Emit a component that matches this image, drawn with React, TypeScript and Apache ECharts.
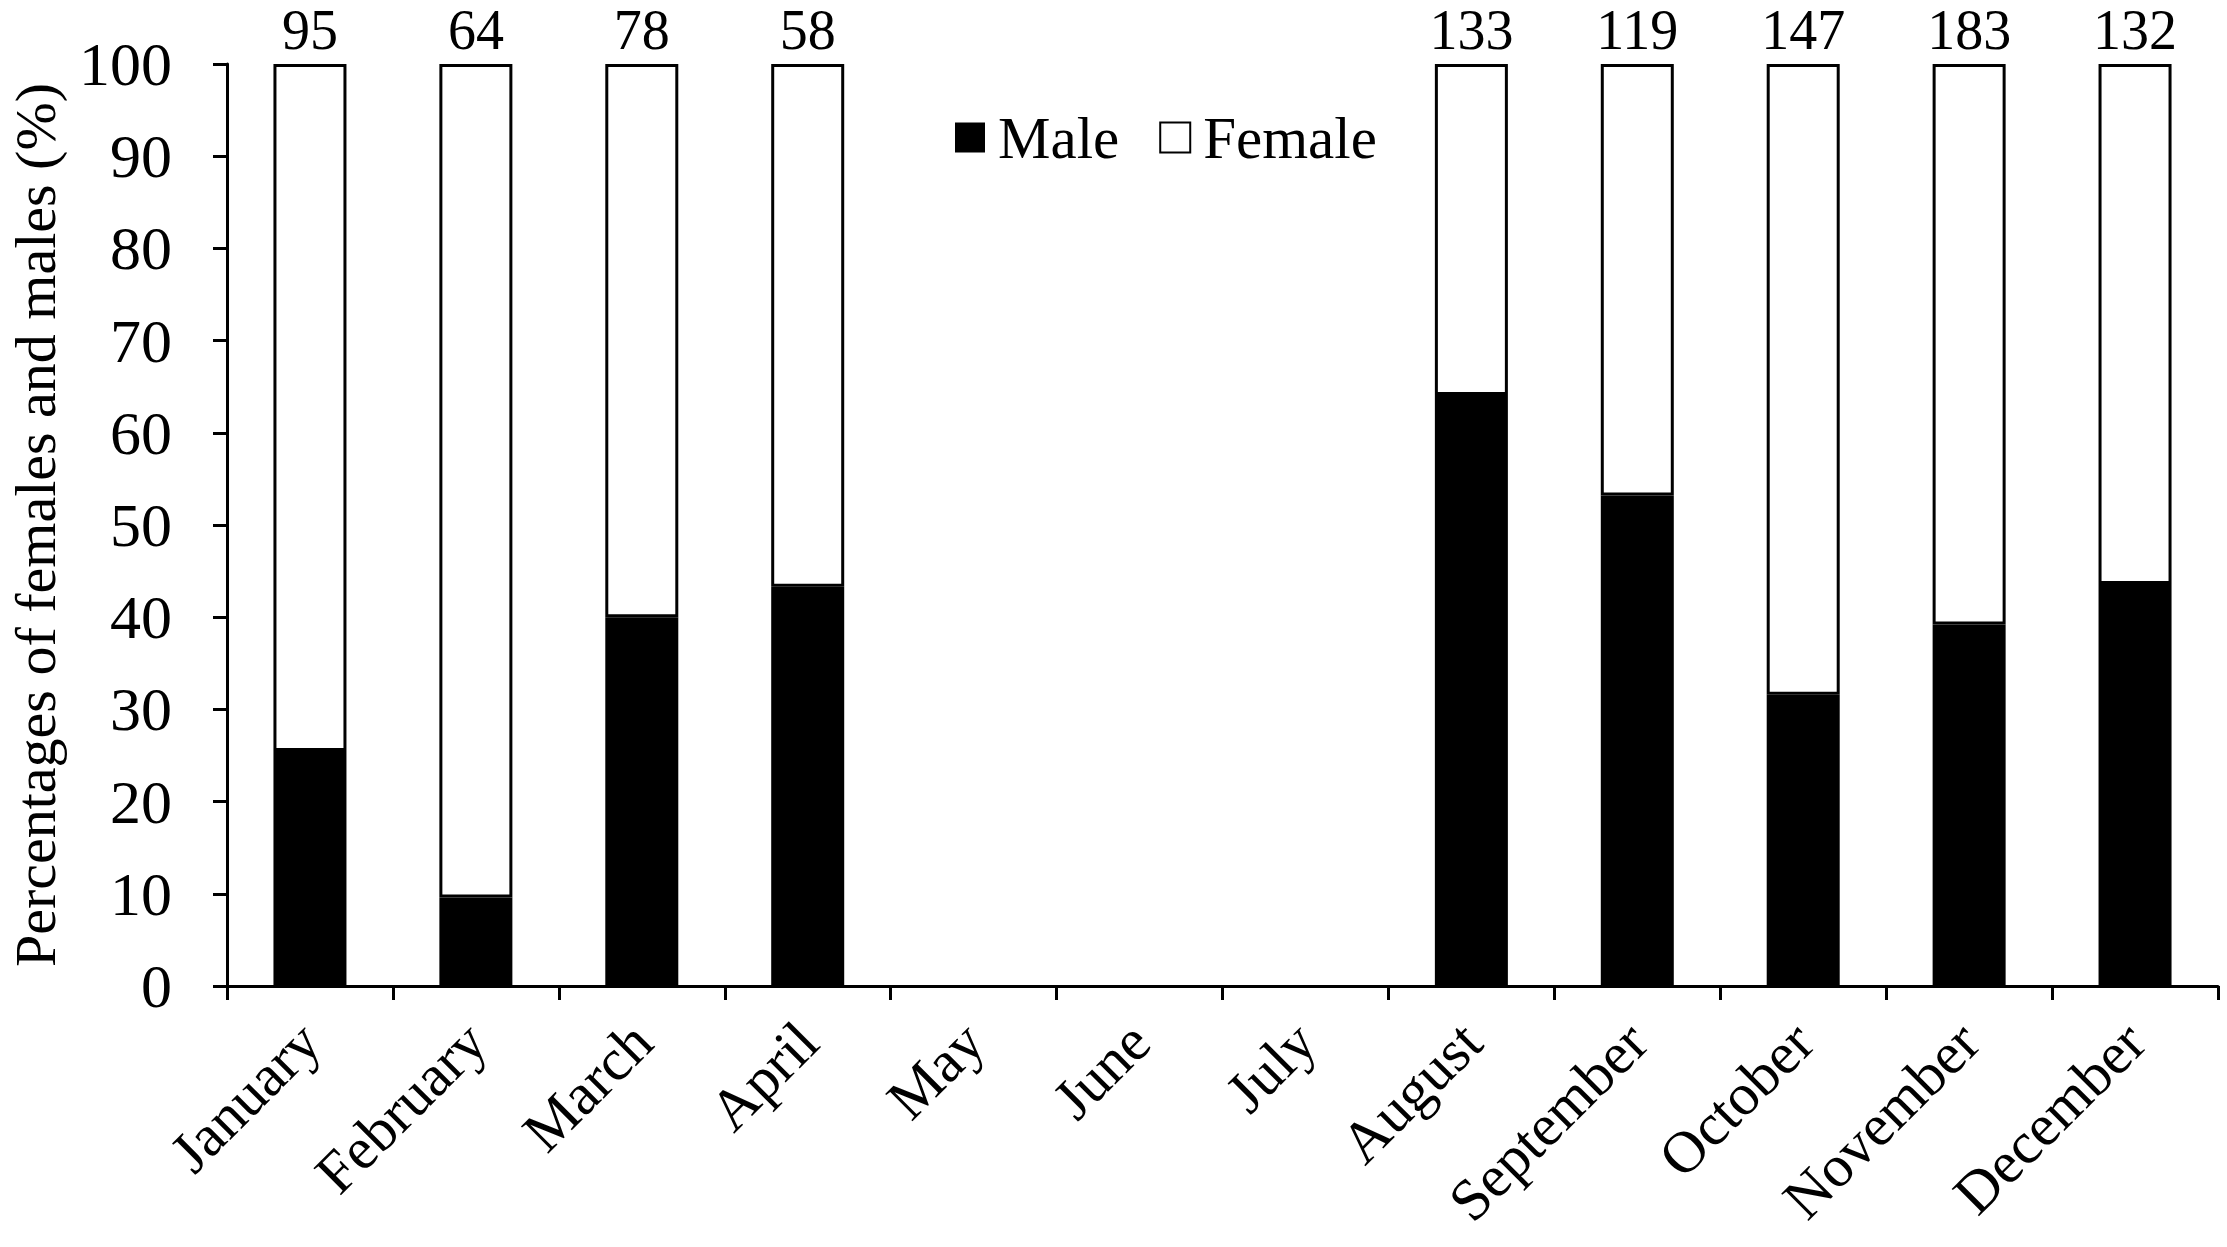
import React, { useEffect, useRef } from "react";
import * as echarts from "echarts";

const months = [
  "January", "February", "March", "April", "May", "June",
  "July", "August", "September", "October", "November", "December",
];
// percentage of males per month (null = no sampling)
const malePct: (number | null)[] = [25.5, 9.6, 40, 43.3, null, null, null, 64.1, 53.2, 31.6, 39.2, 43.6];
// sample sizes shown above the bars
const sampleN: (number | null)[] = [95, 64, 78, 58, null, null, null, 133, 119, 147, 183, 132];
const yTicks = { min: 0, max: 100, interval: 10 };

const FONT = "'Liberation Serif', 'Times New Roman', serif";

export default function App() {
  const ref = useRef<HTMLDivElement>(null);
  useEffect(() => {
    if (!ref.current) return;
    const chart = echarts.init(ref.current, undefined, { renderer: "svg" });
    const femalePct = malePct.map((v) => (v == null ? null : +(100 - v).toFixed(1)));
    chart.setOption({
      animation: false,
      backgroundColor: "#ffffff",
      textStyle: { fontFamily: FONT, color: "#000" },
      grid: { left: 227, right: 9, top: 64, bottom: 261, containLabel: false, outerBoundsMode: "none" },
      legend: {
        left: 950,
        top: 103,
        itemWidth: 30,
        itemHeight: 30,
        itemGap: 40,
        icon: "rect",
        textStyle: { fontFamily: FONT, fontSize: 59, color: "#000", padding: [0, 0, 0, 8] },
        data: ["Male", "Female"],
      },
      xAxis: {
        type: "category",
        data: months,
        boundaryGap: true,
        axisLine: { lineStyle: { color: "#000", width: 3 } },
        axisTick: { show: true, alignWithLabel: false, length: 14, lineStyle: { color: "#000", width: 3 } },
        axisLabel: {
          rotate: 45,
          interval: 0,
          margin: 46,
          fontFamily: FONT,
          fontSize: 59,
          color: "#000",
        },
        splitLine: { show: false },
      },
      yAxis: {
        type: "value",
        min: yTicks.min,
        max: yTicks.max,
        interval: yTicks.interval,
        name: "Percentages of females and males (%)",
        nameLocation: "middle",
        nameGap: 167,
        nameTextStyle: { fontFamily: FONT, fontSize: 58, lineHeight: 50, color: "#000" },
        axisLine: { show: true, lineStyle: { color: "#000", width: 3 } },
        axisTick: { show: true, length: 14, lineStyle: { color: "#000", width: 3 } },
        axisLabel: { margin: 55, fontFamily: FONT, fontSize: 62, color: "#000" },
        splitLine: { show: false },
      },
      series: [
        {
          name: "Male",
          type: "bar",
          stack: "total",
          barWidth: "44%",
          data: malePct,
          itemStyle: { color: "#000", borderColor: "#000", borderWidth: 0 },
        },
        {
          name: "Female",
          type: "bar",
          stack: "total",
          barWidth: "44%",
          data: femalePct,
          itemStyle: { color: "#fff", borderColor: "#000", borderWidth: 3 },
          label: {
            show: true,
            position: "top",
            distance: 6,
            fontFamily: FONT,
            fontSize: 56,
            color: "#000",
            formatter: (p: any) => (sampleN[p.dataIndex] == null ? "" : String(sampleN[p.dataIndex])),
          },
        },
      ],
    });
    return () => chart.dispose();
  }, []);
  return (
    <div
      ref={ref}
      style={{ position: "fixed", left: 0, top: 0, width: 2227, height: 1247, background: "#fff" }}
    />
  );
}
